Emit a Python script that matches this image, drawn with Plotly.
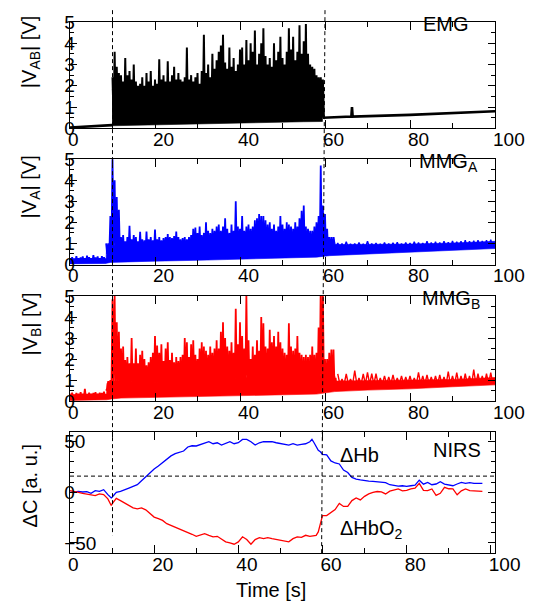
import numpy as np
import plotly.graph_objects as go

FONT = "Liberation Sans, Arial, sans-serif"

# ---------------- data ----------------
# EMG |V_AB| [V]
emg_pre_t = [0, 9.9]
emg_pre_v = [0.04, 0.15]
emg_post_t = [59.5, 66.2, 66.35, 66.5, 80, 100]
emg_post_v = [0.5, 0.55, 1.0, 0.55, 0.63, 0.8]
emg_core_t = [9.9, 10.5, 15, 20, 25, 30, 35, 40, 45, 50, 55, 59.4]
emg_core_lo = [0.12, 0.13, 0.15, 0.17, 0.19, 0.21, 0.23, 0.25, 0.27, 0.29, 0.31, 0.32]
emg_core_hi = [1.8, 2.0, 1.75, 1.7, 1.8, 1.8, 1.9, 2.0, 2.1, 2.1, 2.1, 1.9]
emg_act_t0 = 10.0
emg_act_peaks = [2.4, 3.6, 2.9, 2.6, 2.5, 2.2, 3.3, 2.5, 2.7, 2.3,
                 3.0, 2.2, 2.0, 2.1, 2.4, 2.0, 2.6, 2.2, 2.7, 2.0,
                 2.3, 2.1, 3.25, 2.3, 2.5, 2.2, 3.15, 2.2, 2.5, 2.9,
                 2.3, 2.6, 2.3, 2.2, 2.4, 3.8, 2.3, 2.5, 2.2, 2.4,
                 2.6, 2.1, 2.7, 4.4, 2.6, 3.0, 2.4, 3.5, 2.8, 3.2,
                 3.6, 3.9, 4.4, 3.1, 2.8, 3.8, 2.9, 3.3, 2.7, 3.0,
                 3.7, 3.8, 3.0, 4.15, 3.2, 4.0, 3.6, 4.6, 3.0, 3.5,
                 4.0, 4.7, 3.4, 3.0, 3.3, 2.9, 4.0, 3.2, 3.6, 4.3,
                 3.3, 3.0, 3.6, 4.7, 3.7, 4.3, 3.2, 3.6, 4.85, 3.5,
                 4.1, 4.9, 3.5, 3.0, 2.9, 2.8, 2.5, 2.4, 2.4, 2.3]

# MMG_A |V_A| [V]
mmga_core_t = [0, 8.5, 8.6, 9.5, 12, 20, 30, 40, 50, 58, 61, 62, 70, 80, 90, 100]
mmga_core_lo = [0.03, 0.05, 0.06, 0.1, 0.12, 0.16, 0.2, 0.25, 0.3, 0.35, 0.42, 0.45, 0.52, 0.6, 0.68, 0.76]
mmga_core_hi = [0.25, 0.28, 0.85, 0.9, 0.9, 0.85, 0.95, 1.0, 1.05, 1.15, 1.1, 0.95, 0.95, 0.97, 1.02, 1.1]
mmga_pre_t0 = 0.0
mmga_pre_peaks = [0.3, 0.35, 0.28, 0.4, 0.3, 0.33, 0.38, 0.3, 0.42, 0.35,
                  0.3, 0.45, 0.33, 0.38, 0.3, 0.4, 0.35]
mmga_act_t0 = 8.5
mmga_act_peaks = [1.0, 1.0, 2.3, 5.1, 4.0, 3.2, 2.6, 1.3, 1.4, 1.1,
                  1.3, 1.84, 1.2, 1.4, 1.3, 1.1, 1.55, 1.2, 1.15, 1.56,
                  1.2, 1.3, 1.15, 1.66, 1.2, 1.3, 1.15, 1.25, 1.3, 1.45,
                  1.3, 1.25, 1.35, 1.56, 1.3, 1.2, 1.25, 1.3, 1.2, 1.3,
                  1.4, 1.7, 1.75, 1.5, 1.8, 1.4, 1.5, 2.0, 1.6, 1.5,
                  1.7, 1.6, 1.8, 1.9, 1.6, 1.8, 2.2, 1.7, 1.5, 1.9,
                  1.6, 3.0, 1.8, 1.7, 2.3, 1.6, 1.8, 1.9, 1.7, 1.8,
                  2.1, 2.2, 2.4, 2.3, 2.3, 2.1, 1.9, 2.0, 1.7, 1.9,
                  1.6, 1.8, 2.3, 1.9, 1.7, 2.0, 1.9, 1.8, 1.7, 2.0,
                  1.8, 2.2, 2.55, 2.8, 1.8, 1.7, 1.6, 1.6, 1.8, 2.0,
                  2.3, 4.7, 2.8, 2.4, 1.7, 1.3, 1.3, 1.3]
mmga_post_t0 = 62.0
mmga_post_peaks = [1.3, 1.02, 1.0, 1.08, 0.98, 1.0, 1.05, 0.98, 1.1, 1.0,
                   1.02, 0.98, 1.05, 1.0, 1.03, 1.06, 1.0, 1.04, 1.02, 1.08,
                   1.05, 1.02, 1.1, 1.05, 1.08, 1.04, 1.1, 1.06, 1.12, 1.08,
                   1.1, 1.15, 1.1, 1.13, 1.16, 1.12, 1.15, 1.18]

# MMG_B |V_B| [V]
mmgb_core_t = [0, 8.6, 8.7, 9.8, 12, 20, 30, 40, 50, 58, 62.3, 62.5, 70, 80, 90, 100]
mmgb_core_lo = [0.03, 0.06, 0.06, 0.1, 0.14, 0.18, 0.22, 0.26, 0.3, 0.33, 0.45, 0.46, 0.52, 0.58, 0.68, 0.77]
mmgb_core_hi = [0.3, 0.33, 0.85, 0.95, 0.95, 0.9, 1.0, 1.1, 1.2, 1.2, 1.2, 0.95, 0.98, 1.0, 1.03, 1.12]
mmgb_pre_t0 = 0.0
mmgb_pre_peaks = [0.35, 0.4, 0.3, 0.38, 0.35, 0.42, 0.35, 0.58, 0.33, 0.4,
                  0.35, 0.38, 0.42, 0.35, 0.4, 0.38, 0.45]
mmgb_act_t0 = 8.5
mmgb_act_peaks = [0.5, 0.95, 1.0, 4.85, 5.0, 3.75, 3.3, 2.5, 2.6, 1.95,
                  2.1, 1.8, 3.0, 1.8, 2.5, 1.8, 2.2, 2.4, 2.0, 1.7,
                  1.85, 2.1, 2.3, 3.1, 2.65, 2.3, 2.7, 1.9, 2.5, 2.8,
                  1.95, 2.3, 1.85, 2.1, 1.9, 2.1, 2.2, 3.0, 2.8, 2.1,
                  2.7, 2.9, 2.2, 2.0, 2.5, 2.8, 2.6, 2.4, 2.2, 2.6,
                  2.3, 2.5, 2.9, 2.5, 3.3, 3.75, 3.0, 2.6, 2.4, 2.8,
                  2.3, 4.4, 2.7, 3.75, 3.1, 2.5, 5.0, 2.9, 2.0, 2.6,
                  2.2, 2.9, 2.4, 4.0, 3.7, 2.6, 2.5, 3.4, 2.8, 3.1,
                  2.6, 3.3, 2.8, 2.5, 2.3, 2.2, 3.7, 2.6, 2.4, 2.5,
                  3.1, 2.3, 2.2, 2.1, 2.2, 2.1, 2.2, 2.6, 2.2, 2.3,
                  3.5, 5.6, 5.0, 2.0, 2.0, 2.3, 2.46, 2.46, 1.1]
mmgb_post_t0 = 63.0
mmgb_post_peaks = [1.29, 1.05, 1.29, 1.05, 1.45, 1.1, 1.29, 1.37, 1.3, 1.3,
                   1.1, 1.2, 1.15, 1.25, 1.1, 1.2, 1.15, 1.2, 1.1, 1.37,
                   1.2, 1.25, 1.15, 1.2, 1.25, 1.15, 1.4, 1.2, 1.35, 1.2,
                   1.3, 1.2, 1.5, 1.3, 1.2, 1.3, 1.35]

# NIRS  ΔC [a. u.]
nirs_t = [0, 1, 2, 3, 4, 5, 6, 7, 8, 9, 9.8, 10, 11, 12, 13, 14, 15, 16, 17, 18,
          19, 20, 21, 22, 23, 24, 25, 26, 27, 28, 29, 30, 31, 32, 33, 34, 35, 36, 37, 38,
          39, 40, 41, 42, 43, 44, 45, 46, 47, 48, 49, 50, 51, 52, 53, 54, 55, 56, 57, 57.5,
          58, 58.5, 59, 59.5, 60, 61, 62, 63, 64, 65, 66, 67, 68, 69, 70, 71, 72, 73, 74, 75,
          76, 77, 78, 79, 80, 81, 82, 83, 84, 85, 86, 87, 88, 89, 90, 91, 92, 93, 94, 95,
          96, 97, 98]
nirs_hb = [0, 0.6, 1, 0.3, 0.6, -1, 1.6, 1, 2.6, -2.3, -5.5, -4.9, 0, 1, 2.3, 4.2, 5.9, 7.5, 11.4, 15.4,
           20, 23, 26, 29.4, 32.7, 36, 38.2, 39.2, 40.8, 44.8, 46, 45.8, 47.4, 48.7, 50, 48, 49, 46.7, 48, 50,
           48, 49, 52.3, 52.3, 50, 46.7, 49, 50, 50, 50, 49, 48, 47.4, 46.7, 48, 46.7, 47.4, 48, 50, 52.3,
           49, 44.8, 41.5, 40, 37.6, 37, 31, 29, 28, 22, 19.6, 14.7, 13, 12.2, 11.4, 11, 10.8, 10.5, 9.8, 9.5,
           7.5, 6.5, 6.2, 6.5, 5.9, 6.5, 7, 12, 8, 9.8, 7.5, 8.2, 10.5, 8.2, 7.5, 6.5, 8.2, 9.8, 8.8, 9.5,
           8.8, 8.8, 8.8]
nirs_hbo2 = [1.6, 1, 0, -1, -1.6, -2.3, -3.3, -1.6, -2.3, -6.5, -13, -11.4, -6, -8.2, -10.8, -13, -15.4, -16.3, -15.4, -17.3,
             -21, -24.5, -26, -27.8, -31, -32.7, -34.3, -36, -37.6, -39.2, -41.5, -43.5, -42.5, -40.8, -42.5, -44, -43.5, -46.7, -49, -50,
             -51.3, -49, -44, -46.7, -51.3, -46.7, -44.8, -45.8, -44.8, -45.8, -46.7, -47.4, -48, -49, -45.8, -44, -44.5, -42.5, -43.5, -43,
             -42.5, -42.5, -39.2, -29.4, -23, -23, -20, -17, -11, -14, -14, -8.2, -5.6, -7.5, -4, -1.5, 0, 0.8, 0.5, -1.6,
             1.2, 2.5, 3.3, 1.5, 2, 3.3, 4, 8.8, 2, 1.6, 3.3, -3, -1, 4.9, 3.5, 3.3, -2.5, 1.5, 3.3, 1.6,
             1.6, 1.6, 1.0]

# event markers and reference level
event_start = 10
event_end_top = 60
event_end_bottom = 59.2
event_start_stop = -42.5
nirs_ref_level = 16

# axis ticks
x_ticks = [0, 20, 40, 60, 80, 100]
v_ticks = [0, 1, 2, 3, 4, 5]
c_ticks = [-50, 0, 50]

# ---------------- layout geometry ----------------
W, H = 537, 605
ML, MR, MT, MB = 70, 36, 15, 52
PW, PH = W - ML - MR, H - MT - MB
doms = [[0.7998, 1.0], [0.5433, 0.7416], [0.2862, 0.4838], [0.0, 0.2286]]


def px_x(px):
    return (px - ML) / PW


def px_y(py):
    return (H - MB - py) / PH


def zigzag(t0, step, peaks, floor):
    xs, ys = [], []
    for i, p in enumerate(peaks):
        t = t0 + step * i
        xs += [t, t + step / 2.0]
        ys += [p, floor]
    return xs, ys


fig = go.Figure()


def add_core(t, lo, hi, color, ax):
    xs = list(t) + list(t)[::-1]
    ys = list(hi) + list(lo)[::-1]
    fig.add_trace(go.Scatter(x=xs, y=ys, fill="toself", fillcolor=color, mode="lines",
                             line=dict(width=0.6, color=color), hoverinfo="skip",
                             xaxis="x" + ax, yaxis="y" + ax, showlegend=False))


def add_spikes(t0, step, peaks, floor, color, ax, width=1.8):
    xs, ys = zigzag(t0, step, peaks, floor)
    fig.add_trace(go.Scatter(x=xs, y=ys, mode="lines", line=dict(width=width, color=color),
                             hoverinfo="skip", xaxis="x" + ax, yaxis="y" + ax, showlegend=False))


# EMG
add_core(emg_core_t, emg_core_lo, emg_core_hi, "#000000", "")
add_spikes(emg_act_t0, 0.5, emg_act_peaks, 0.5, "#000000", "", width=2.0)
fig.add_trace(go.Scatter(x=emg_pre_t, y=emg_pre_v, mode="lines", line=dict(width=2.6, color="#000000"),
                         hoverinfo="skip", xaxis="x", yaxis="y", showlegend=False))
fig.add_trace(go.Scatter(x=emg_post_t, y=emg_post_v, mode="lines", line=dict(width=2.6, color="#000000"),
                         hoverinfo="skip", xaxis="x", yaxis="y", showlegend=False))

# MMG_A
BLUE = "#0000ff"
add_core(mmga_core_t, mmga_core_lo, mmga_core_hi, BLUE, "2")
add_spikes(mmga_pre_t0, 0.5, mmga_pre_peaks, 0.1, BLUE, "2")
add_spikes(mmga_act_t0, 0.5, mmga_act_peaks, 0.5, BLUE, "2")
add_spikes(mmga_post_t0, 1.0, mmga_post_peaks, 0.8, BLUE, "2", width=1.4)

# MMG_B
RED = "#ff0000"
add_core(mmgb_core_t, mmgb_core_lo, mmgb_core_hi, RED, "3")
add_spikes(mmgb_pre_t0, 0.5, mmgb_pre_peaks, 0.15, RED, "3")
add_spikes(mmgb_act_t0, 0.5, mmgb_act_peaks, 0.6, RED, "3")
add_spikes(mmgb_post_t0, 1.0, mmgb_post_peaks, 0.8, RED, "3", width=1.4)

# NIRS
fig.add_trace(go.Scatter(x=nirs_t, y=nirs_hb, mode="lines", line=dict(width=1.3, color=BLUE),
                         hoverinfo="skip", xaxis="x4", yaxis="y4", showlegend=False))
fig.add_trace(go.Scatter(x=nirs_t, y=nirs_hbo2, mode="lines", line=dict(width=1.3, color=RED),
                         hoverinfo="skip", xaxis="x4", yaxis="y4", showlegend=False))

tickfont = dict(family=FONT, size=19, color="black")


def xcfg(anchor, rng):
    return dict(domain=[0, 1], anchor=anchor, range=rng, tickmode="array", tickvals=x_ticks,
                ticks="inside", ticklen=8, tickwidth=1, tickcolor="black",
                minor=dict(dtick=10, tick0=0, ticks="inside", ticklen=5, tickwidth=1, tickcolor="black"),
                showline=True, linecolor="black", linewidth=1, mirror="ticks",
                showgrid=False, zeroline=False, tickfont=tickfont,
                ticklabelposition="outside right", ticklabeloverflow="allow",
                ticklabelshift=-3, ticklabelstandoff=-6)


def ycfg(anchor, dom, rng, tv, mdt):
    return dict(domain=dom, anchor=anchor, range=rng, tickmode="array", tickvals=tv,
                ticks="inside", ticklen=7, tickwidth=1, tickcolor="black",
                minor=dict(dtick=mdt, tick0=0, ticks="inside", ticklen=4, tickwidth=1, tickcolor="black"),
                showline=True, linecolor="black", linewidth=1, mirror="ticks",
                showgrid=False, zeroline=False, tickfont=tickfont,
                ticklabelposition="inside", ticklabeloverflow="allow", ticklabelstandoff=-12)


c_range = [-60, 60]
d4 = doms[3]
stop_paper = d4[0] + (d4[1] - d4[0]) * (event_start_stop - c_range[0]) / (c_range[1] - c_range[0])

fig.update_layout(
    width=W, height=H, margin=dict(l=ML, r=MR, t=MT, b=MB),
    paper_bgcolor="white", plot_bgcolor="white",
    font=dict(family=FONT, color="black"),
    xaxis=xcfg("y", [0, 100]), yaxis=ycfg("x", doms[0], [0, 5], v_ticks, 0.5),
    xaxis2=xcfg("y2", [0, 100]), yaxis2=ycfg("x2", doms[1], [0, 5], v_ticks, 0.5),
    xaxis3=xcfg("y3", [0, 100]), yaxis3=ycfg("x3", doms[2], [0, 5], v_ticks, 0.5),
    xaxis4=xcfg("y4", [0, 101]), yaxis4=ycfg("x4", doms[3], c_range, c_ticks, 10),
    shapes=[
        dict(type="line", xref="x", yref="paper", x0=event_start, x1=event_start,
             y0=px_y(3), y1=stop_paper, line=dict(color="black", width=1, dash="4px,3px")),
        dict(type="line", xref="x", yref="paper", x0=event_end_top, x1=event_end_bottom,
             y0=px_y(3), y1=0, line=dict(color="black", width=1, dash="4px,3px")),
        dict(type="line", xref="x4 domain", yref="y4", x0=0, x1=1,
             y0=nirs_ref_level, y1=nirs_ref_level, line=dict(color="black", width=1, dash="4px,3px")),
    ],
)

lab = dict(family=FONT, size=20, color="black")
annos = [
    dict(text="EMG", x=px_x(477), y=px_y(17), xanchor="right", yanchor="middle"),
    dict(text="MMG<sub>A</sub>", x=px_x(486), y=px_y(157), xanchor="right", yanchor="middle"),
    dict(text="MMG<sub>B</sub>", x=px_x(488), y=px_y(296), xanchor="right", yanchor="middle"),
    dict(text="NIRS", x=px_x(489), y=px_y(449), xanchor="right", yanchor="middle"),
    dict(text="ΔHb", x=px_x(342), y=px_y(454), xanchor="left", yanchor="middle"),
    dict(text="ΔHbO<sub>2</sub>", x=px_x(342), y=px_y(529), xanchor="left", yanchor="middle"),
    dict(text="Time [s]", x=px_x(274), y=px_y(590), xanchor="center", yanchor="middle"),
    dict(text="|V<sub>AB</sub>| [V]", x=px_x(30), y=px_y(46), xanchor="center", yanchor="middle", textangle=-90),
    dict(text="|V<sub>A</sub>| [V]", x=px_x(30), y=px_y(182), xanchor="center", yanchor="middle", textangle=-90),
    dict(text="|V<sub>B</sub>| [V]", x=px_x(30), y=px_y(321), xanchor="center", yanchor="middle", textangle=-90),
    dict(text="ΔC [a. u.]", x=px_x(29), y=px_y(485), xanchor="center", yanchor="middle", textangle=-90),
]
for a in annos:
    a.update(xref="paper", yref="paper", showarrow=False, font=lab)
fig.update_layout(annotations=annos)

fig.write_html("out.html", config={"displayModeBar": False},
               post_script="document.body.style.margin='0px';document.body.style.overflow='hidden';")
